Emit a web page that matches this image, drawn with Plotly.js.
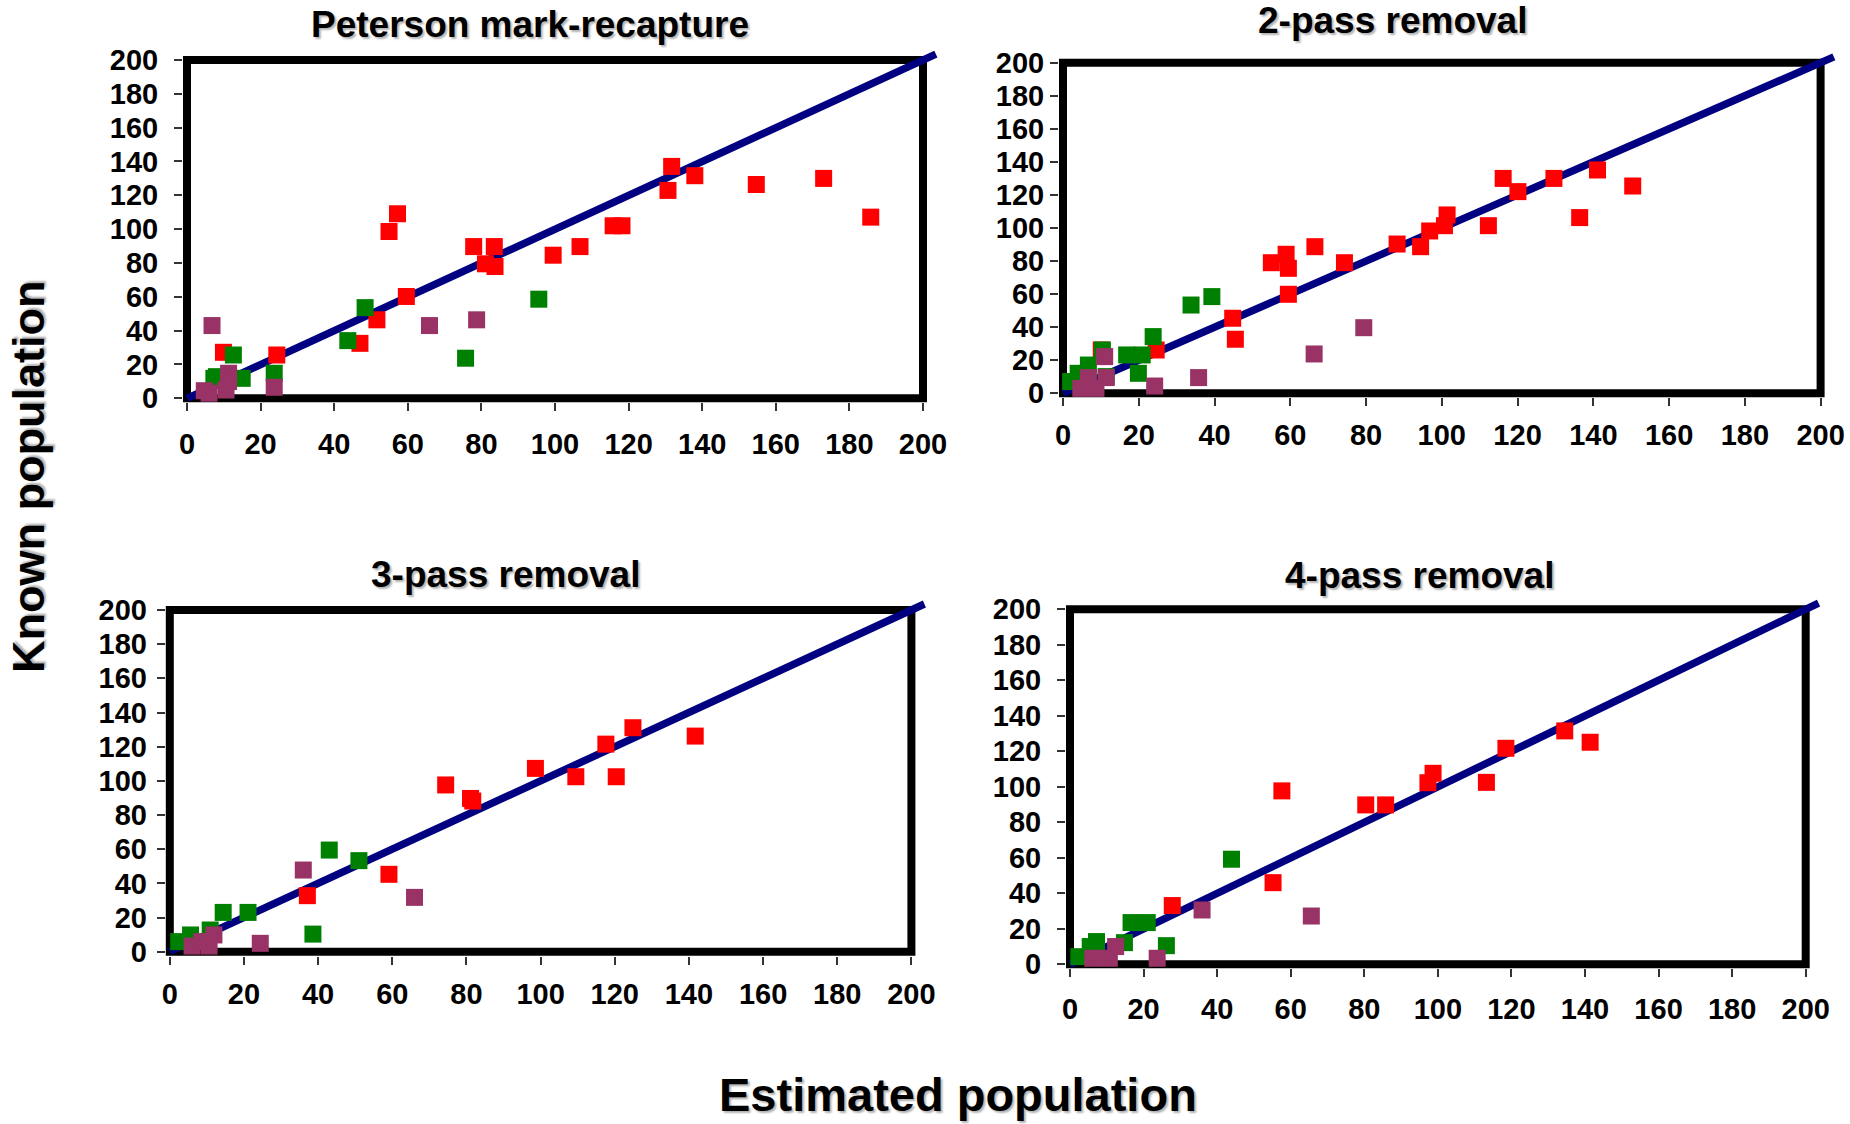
<!DOCTYPE html>
<html>
<head>
<meta charset="utf-8">
<script src="https://cdn.plot.ly/plotly-3.0.1.min.js"></script>
<style>html,body{margin:0;padding:0;background:#fff;}</style>
</head>
<body>
<div id="chart" style="width:1850px;height:1124px;"></div>
<script>
// ---------------- DATA ----------------
const panelTitles = ['Peterson mark-recapture', '2-pass removal', '3-pass removal', '4-pass removal'];
const xAxisTitle = 'Estimated population';
const yAxisTitle = 'Known population';
const tickValues = [0, 20, 40, 60, 80, 100, 120, 140, 160, 180, 200];
const oneToOneLine = [0, 203.5];

// Peterson mark-recapture
const petersonRedX = [131.7, 138.0, 130.7, 154.7, 173.0, 185.8, 57.2, 54.9, 77.9, 83.5, 81.1, 83.7, 99.5, 106.8, 115.8, 118.2, 59.6, 51.6, 47.0, 9.9, 24.4];
const petersonRedY = [137.1, 131.6, 122.9, 126.4, 130.0, 107.1, 109.1, 98.6, 89.7, 89.7, 79.5, 77.9, 84.6, 89.7, 102.0, 102.0, 60.2, 46.4, 32.5, 27.2, 25.6];
const petersonGreenX = [48.4, 43.7, 95.6, 75.7, 12.6, 15.0, 23.7, 7.3, 8.0];
const petersonGreenY = [53.6, 34.1, 58.6, 23.7, 25.6, 11.8, 14.8, 11.8, 12.8];
const petersonPurpleX = [6.8, 65.9, 78.7, 23.7, 4.7, 6.0, 10.6, 11.3, 11.3];
const petersonPurpleY = [43.0, 43.0, 46.4, 6.5, 4.5, 3.0, 4.9, 14.8, 9.9];

// 2-pass removal
const pass2RedX = [116.2, 120.1, 129.6, 141.1, 150.4, 136.4, 112.3, 101.4, 100.7, 96.8, 94.4, 88.2, 74.3, 66.5, 58.9, 55.0, 59.5, 59.5, 44.8, 45.5, 24.6, 10.1];
const pass2RedY = [130.0, 122.0, 130.0, 135.1, 125.4, 106.3, 101.4, 107.9, 101.4, 98.2, 88.7, 90.3, 79.0, 88.7, 84.1, 79.0, 75.6, 59.9, 45.4, 32.7, 26.2, 26.2];
const pass2GreenX = [39.3, 33.8, 23.8, 16.8, 20.9, 19.9, 10.4, 6.7, 4.0, 2.0, 11.4];
const pass2GreenY = [58.5, 53.4, 34.3, 23.2, 23.2, 12.1, 26.2, 17.1, 12.1, 7.1, 10.1];
const pass2PurpleX = [79.4, 66.3, 35.8, 24.2, 11.0, 11.4, 6.7, 4.7, 8.7];
const pass2PurpleY = [39.7, 23.8, 9.5, 4.4, 22.2, 9.5, 9.5, 3.0, 3.0];

// 3-pass removal
const pass3RedX = [124.9, 117.6, 141.7, 120.4, 109.5, 98.6, 74.4, 81.1, 81.7, 59.1, 37.1];
const pass3RedY = [131.1, 121.5, 126.2, 102.4, 102.4, 107.3, 97.6, 89.7, 88.2, 45.3, 32.8];
const pass3GreenX = [43.0, 51.0, 21.1, 14.4, 38.6, 10.9, 5.6, 2.4];
const pass3GreenY = [59.5, 53.3, 23.0, 23.0, 10.3, 12.7, 9.8, 5.9];
const pass3PurpleX = [36.0, 66.0, 24.4, 11.9, 6.0, 10.6, 8.6];
const pass3PurpleY = [47.8, 31.8, 4.9, 9.8, 3.3, 3.3, 5.9];

// 4-pass removal
const pass4RedX = [134.5, 141.4, 118.5, 113.2, 98.7, 97.3, 85.8, 80.4, 57.6, 55.2, 27.8];
const pass4RedY = [131.5, 125.1, 121.7, 102.5, 107.6, 102.3, 89.8, 89.8, 97.7, 46.0, 33.1];
const pass4GreenX = [43.9, 16.6, 21.0, 26.2, 14.8, 7.2, 5.5, 2.4];
const pass4GreenY = [59.2, 23.5, 23.5, 10.5, 12.2, 12.8, 10.0, 4.3];
const pass4PurpleX = [65.6, 35.9, 23.7, 12.4, 6.2, 10.7];
const pass4PurpleY = [27.2, 30.6, 3.4, 10.0, 3.4, 3.4];

const panelSeries = [
  [[petersonRedX, petersonRedY], [petersonGreenX, petersonGreenY], [petersonPurpleX, petersonPurpleY]],
  [[pass2RedX, pass2RedY], [pass2GreenX, pass2GreenY], [pass2PurpleX, pass2PurpleY]],
  [[pass3RedX, pass3RedY], [pass3GreenX, pass3GreenY], [pass3PurpleX, pass3PurpleY]],
  [[pass4RedX, pass4RedY], [pass4GreenX, pass4GreenY], [pass4PurpleX, pass4PurpleY]]
];

// ---------------- LAYOUT / STYLE ----------------
const W = 1850, H = 1124;
const seriesColors = ['#FF0000', '#008000', '#993366'];
const seriesNames = ['Group 1', 'Group 2', 'Group 3'];
const FONT = 'Liberation Sans, Arial, Helvetica, sans-serif';
const SHADOW = '2px 2px 2px rgba(0,0,0,0.3)';

// pixel positions of value 0 and value 200 on each panel's axes
const frames = [
  {x0: 187,   x200: 923,    y0: 398.3, y200: 60,    xStand: 8, yStand: 10},
  {x0: 1063,  x200: 1820.6, y0: 393.3, y200: 62.7,  xStand: 4, yStand: 0},
  {x0: 169.8, x200: 911.4,  y0: 951.7, y200: 610,   xStand: 4, yStand: 4},
  {x0: 1070,  x200: 1805.7, y0: 964.3, y200: 609.3, xStand: 7, yStand: 10}
];
const titlePos = [
  {x: 530, y: 25}, {x: 1392, y: 20}, {x: 506, y: 574}, {x: 1419, y: 575}
];
const PAD = 4, XMAX = 205, YMAX = 206;

const traces = [];
const layout = {
  width: W, height: H,
  margin: {l: 0, r: 0, t: 0, b: 0},
  paper_bgcolor: '#ffffff',
  plot_bgcolor: 'rgba(0,0,0,0)',
  showlegend: false,
  font: {family: FONT, color: '#000'},
  shapes: [],
  annotations: []
};

frames.forEach((f, i) => {
  const n = i + 1;
  const xa = 'xaxis' + (n === 1 ? '' : n), ya = 'yaxis' + (n === 1 ? '' : n);
  const xr = 'x' + (n === 1 ? '' : n), yr = 'y' + (n === 1 ? '' : n);
  const ppx = (f.x200 - f.x0) / 200, ppy = (f.y0 - f.y200) / 200;
  const xRange = [-PAD / ppx, XMAX], yRange = [-PAD / ppy, YMAX];
  const left = f.x0 - PAD, right = f.x0 + XMAX * ppx;
  const bottom = f.y0 + PAD, top = f.y0 - YMAX * ppy;
  const tickStyle = {
    tickvals: tickValues, ticktext: tickValues.map(String),
    ticks: 'outside', ticklen: 8, tickwidth: 2, tickcolor: '#333',
    showgrid: false, zeroline: false, showline: false, fixedrange: true,
    tickfont: {family: FONT, size: 29, color: '#000', weight: 'bold'}
  };
  layout[xa] = Object.assign({}, tickStyle, {
    domain: [left / W, right / W], range: xRange, anchor: yr,
    ticklabelstandoff: f.xStand
  });
  layout[ya] = Object.assign({}, tickStyle, {
    domain: [1 - bottom / H, 1 - top / H], range: yRange, anchor: xr,
    ticklabelstandoff: f.yStand
  });
  // frame box (0..200)
  layout.shapes.push({
    type: 'rect', xref: 'paper', yref: 'paper', layer: 'below',
    x0: f.x0 / W, x1: f.x200 / W, y0: 1 - f.y0 / H, y1: 1 - f.y200 / H,
    line: {color: '#000', width: 8}, fillcolor: 'rgba(0,0,0,0)'
  });
  // 1:1 line
  traces.push({
    type: 'scatter', mode: 'lines', x: oneToOneLine, y: oneToOneLine,
    xaxis: xr, yaxis: yr, line: {color: '#000080', width: 7.5},
    hoverinfo: 'skip', showlegend: false
  });
  panelSeries[i].forEach((s, k) => {
    traces.push({
      type: 'scatter', mode: 'markers', x: s[0], y: s[1],
      xaxis: xr, yaxis: yr, name: seriesNames[k], cliponaxis: false,
      marker: {symbol: 'square', size: 17, color: seriesColors[k], line: {width: 0}}
    });
  });
  layout.annotations.push({
    text: panelTitles[i], xref: 'paper', yref: 'paper',
    x: titlePos[i].x / W, y: 1 - titlePos[i].y / H,
    xanchor: 'center', yanchor: 'middle', showarrow: false,
    font: {family: FONT, size: 37, color: '#000', weight: 'bold', shadow: SHADOW}
  });
});

layout.annotations.push({
  text: xAxisTitle, xref: 'paper', yref: 'paper',
  x: 958 / W, y: 1 - 1094 / H, xanchor: 'center', yanchor: 'middle', showarrow: false,
  font: {family: FONT, size: 47, color: '#000', weight: 'bold', shadow: SHADOW}
});
layout.annotations.push({
  text: yAxisTitle, xref: 'paper', yref: 'paper', textangle: -90,
  x: 28 / W, y: 1 - 477 / H, xanchor: 'center', yanchor: 'middle', showarrow: false,
  font: {family: FONT, size: 45, color: '#000', weight: 'bold', shadow: SHADOW}
});

Plotly.newPlot('chart', traces, layout, {displayModeBar: false, staticPlot: true});
</script>
</body>
</html>
